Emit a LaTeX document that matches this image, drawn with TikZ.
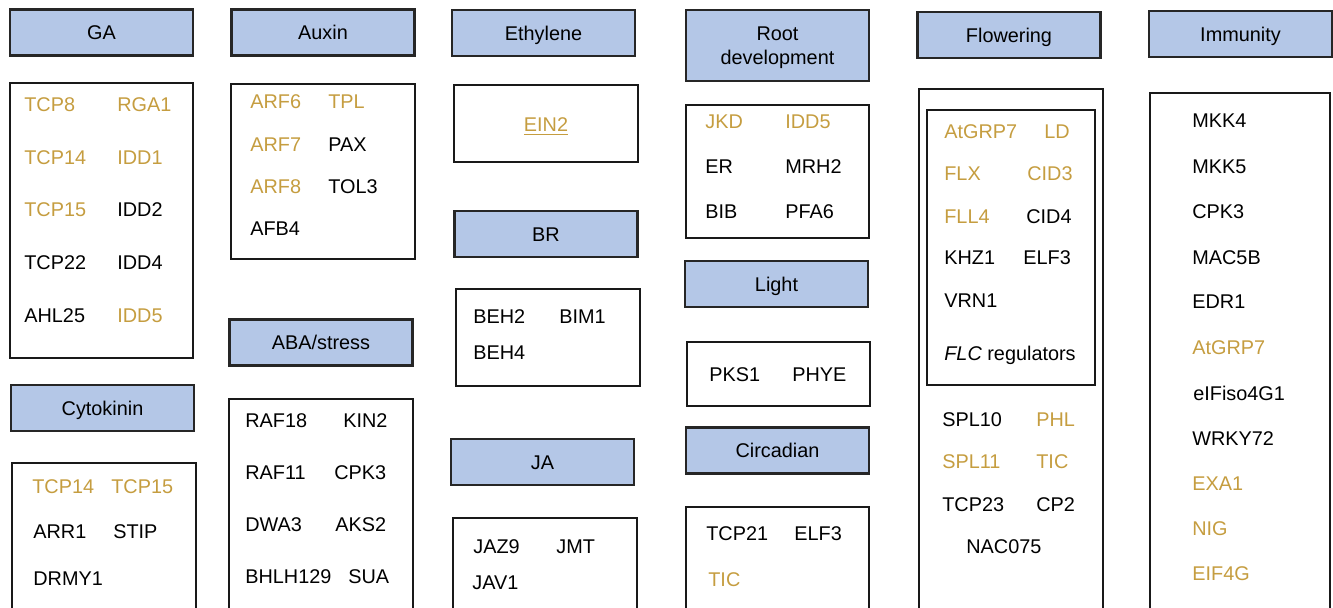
\documentclass[tikz,border=0pt]{standalone}
\usepackage{fontspec}
\setmainfont{Liberation Sans}
\usepackage{xcolor}
\usepackage{tikz}
\definecolor{hdrblue}{RGB}{180,199,231}
\definecolor{genegold}{RGB}{197,157,64}
\newcommand{\genefont}{\fontsize{11.3}{13.6}\selectfont}

\begin{document}
\begin{tikzpicture}[
    x=0.02cm, y=-0.02cm,
    hdrbox/.style={draw=black!85, line width=0.045cm, fill=hdrblue, inner sep=0pt,
                   minimum width=3.66cm, minimum height=0.92cm, font=\genefont},
    hdr/.style={hdrbox, text height=8.1pt, text depth=0pt},
    grp/.style={draw=black!90, line width=0.058cm},
    gene/.style={anchor=base west, inner sep=0pt, yshift=-0.15cm, font=\genefont},
    hit/.style={gene, text=genegold}
]
\useasboundingbox (0,0) rectangle (1333,608);
\clip (0,0) rectangle (1333,608);

% Headers
\node[hdr] (ga) at (101.5,32.5) {GA};
\node[hdr] (auxin) at (323,32.5) {Auxin};
\node[hdr] (ethylene) at (543.5,33) {Ethylene};
\node[hdrbox, minimum height=1.42cm, align=center, text depth=0pt] (rootdev) at (777.5,45.5) {Root\\development};
\node[hdr] (flowering) at (1009,35) {Flowering};
\node[hdr] (immunity) at (1240.5,34) {Immunity};
\node[hdr] (cytokinin) at (102.5,408) {Cytokinin};
\node[hdr] (aba) at (321,342.5) {ABA/stress};
\node[hdr] (br) at (546,234) {BR};
\node[hdr] (ja) at (542.5,462) {JA};
\node[hdr] (light) at (776.5,284) {Light};
\node[hdr] (circadian) at (777.5,450.5) {Circadian};

% Gene boxes (bottom row runs off the page)
\draw[grp] (10,83) rectangle (193,358);
\draw[grp] (231,84) rectangle (415,259);
\draw[grp] (12,463) rectangle (196,650);
\draw[grp] (229,399) rectangle (413,650);
\draw[grp] (454,85) rectangle (638,162);
\draw[grp] (456,289) rectangle (640,386);
\draw[grp] (453,518) rectangle (637,650);
\draw[grp] (686,105) rectangle (869,238);
\draw[grp] (687,342) rectangle (870,406);
\draw[grp] (686,507) rectangle (869,650);
\draw[grp] (919,89) rectangle (1103,650);
\draw[grp] (927,110) rectangle (1095,385);
\draw[grp] (1150,93) rectangle (1330,650);

% GA
\node[hit] (ga-tcp8) at (24,104) {TCP8};
\node[hit] (ga-rga1) at (117,104) {RGA1};
\node[hit] (ga-tcp14) at (24,157) {TCP14};
\node[hit] (ga-idd1) at (117,157) {IDD1};
\node[hit] (ga-tcp15) at (24,209) {TCP15};
\node[gene] (ga-idd2) at (117,209) {IDD2};
\node[gene] (ga-tcp22) at (24,262) {TCP22};
\node[gene] (ga-idd4) at (117,262) {IDD4};
\node[gene] (ga-ahl25) at (24,315) {AHL25};
\node[hit] (ga-idd5) at (117,315) {IDD5};

% Auxin
\node[hit] (aux-arf6) at (250,101) {ARF6};
\node[hit] (aux-tpl) at (328,101) {TPL};
\node[hit] (aux-arf7) at (250,144) {ARF7};
\node[gene] (aux-pax) at (328,144) {PAX};
\node[hit] (aux-arf8) at (250,186) {ARF8};
\node[gene] (aux-tol3) at (328,186) {TOL3};
\node[gene] (aux-afb4) at (250,228) {AFB4};

% Cytokinin
\node[hit] (ck-tcp14) at (32,486) {TCP14};
\node[hit] (ck-tcp15) at (111,486) {TCP15};
\node[gene] (ck-arr1) at (33,531) {ARR1};
\node[gene] (ck-stip) at (113,531) {STIP};
\node[gene] (ck-drmy1) at (33,578) {DRMY1};

% ABA/stress
\node[gene] (aba-raf18) at (245,420) {RAF18};
\node[gene] (aba-kin2) at (343,420) {KIN2};
\node[gene] (aba-raf11) at (245,472) {RAF11};
\node[gene] (aba-cpk3) at (334,472) {CPK3};
\node[gene] (aba-dwa3) at (245,524) {DWA3};
\node[gene] (aba-aks2) at (335,524) {AKS2};
\node[gene] (aba-bhlh129) at (245,576) {BHLH129};
\node[gene] (aba-sua) at (348,576) {SUA};

% Ethylene, BR, JA
\node[hit, anchor=base] (eth-ein2) at (546,124) {\underline{EIN2}};
\node[gene] (br-beh2) at (473,316) {BEH2};
\node[gene] (br-bim1) at (559,316) {BIM1};
\node[gene] (br-beh4) at (473,352) {BEH4};
\node[gene] (ja-jaz9) at (473,546) {JAZ9};
\node[gene] (ja-jmt) at (556,546) {JMT};
\node[gene] (ja-jav1) at (472,582) {JAV1};

% Root development, Light, Circadian
\node[hit] (rd-jkd) at (705,121) {JKD};
\node[hit] (rd-idd5) at (785,121) {IDD5};
\node[gene] (rd-er) at (705,166) {ER};
\node[gene] (rd-mrh2) at (785,166) {MRH2};
\node[gene] (rd-bib) at (705,211) {BIB};
\node[gene] (rd-pfa6) at (785,211) {PFA6};
\node[gene] (lt-pks1) at (709,374) {PKS1};
\node[gene] (lt-phye) at (792,374) {PHYE};
\node[gene] (cc-tcp21) at (706,533) {TCP21};
\node[gene] (cc-elf3) at (794,533) {ELF3};
\node[hit] (cc-tic) at (708,579) {TIC};

% Flowering
\node[hit] (fl-atgrp7) at (944,131) {AtGRP7};
\node[hit] (fl-ld) at (1044,131) {LD};
\node[hit] (fl-flx) at (944,173) {FLX};
\node[hit] (fl-cid3) at (1027,173) {CID3};
\node[hit] (fl-fll4) at (944,216) {FLL4};
\node[gene] (fl-cid4) at (1026,216) {CID4};
\node[gene] (fl-khz1) at (944,257) {KHZ1};
\node[gene] (fl-elf3) at (1023,257) {ELF3};
\node[gene] (fl-vrn1) at (944,300) {VRN1};
\node[gene] (fl-flc) at (944,353) {\itshape FLC\upshape{} regulators};
\node[gene] (fl-spl10) at (942,419) {SPL10};
\node[hit] (fl-phl) at (1036,419) {PHL};
\node[hit] (fl-spl11) at (942,461) {SPL11};
\node[hit] (fl-tic) at (1036,461) {TIC};
\node[gene] (fl-tcp23) at (942,504) {TCP23};
\node[gene] (fl-cp2) at (1036,504) {CP2};
\node[gene] (fl-nac075) at (966,546) {NAC075};

% Immunity
\node[gene] (im-mkk4) at (1192,120) {MKK4};
\node[gene] (im-mkk5) at (1192,166) {MKK5};
\node[gene] (im-cpk3) at (1192,211) {CPK3};
\node[gene] (im-mac5b) at (1192,257) {MAC5B};
\node[gene] (im-edr1) at (1192,301) {EDR1};
\node[hit] (im-atgrp7) at (1192,347) {AtGRP7};
\node[gene] (im-eifiso4g1) at (1193,393) {eIFiso4G1};
\node[gene] (im-wrky72) at (1192,438) {WRKY72};
\node[hit] (im-exa1) at (1192,483) {EXA1};
\node[hit] (im-nig) at (1192,528) {NIG};
\node[hit] (im-eif4g) at (1192,573) {EIF4G};

\end{tikzpicture}
\end{document}
